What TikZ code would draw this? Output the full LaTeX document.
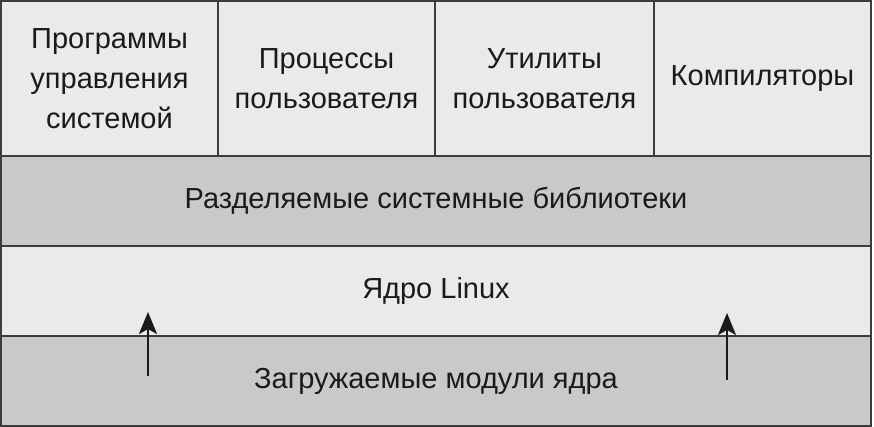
\documentclass[tikz,border=0pt]{standalone}
\usepackage{fontspec}
\setmainfont{Liberation Sans}
\usetikzlibrary{positioning,arrows.meta}
\definecolor{lightbox}{HTML}{EAEAEA}
\definecolor{darkbox}{HTML}{C9C9C9}
\definecolor{edge}{HTML}{3C3C3C}
\definecolor{ink}{HTML}{1A1A1A}
\tikzstyle{top box}=[
        draw = edge,
        line width = 1.4pt,
        fill = lightbox,
        text = ink,
        minimum height = 155pt,
        inner sep = 0pt,
        outer sep = 0pt,
        align = center,
        font = \fontsize{29}{40}\selectfont
    ]
\tikzstyle{layer}=[
        draw = edge,
        line width = 1.4pt,
        text = ink,
        minimum width = 870pt,
        minimum height = 90pt,
        inner sep = 0pt,
        outer sep = 0pt,
        anchor = north west,
        font = \fontsize{29}{40}\selectfont
    ]

\begin{document}
\begin{tikzpicture}[x=1pt, y=-1pt, node distance={0pt}, up/.style = {-{Stealth[length=22pt,width=18pt,inset=5pt]}, line width=2.8pt, ink}]
        \useasboundingbox[fill=white] (0,0) rectangle (874,427);
        \node[top box, minimum width=217pt, anchor=north west] (prog) at (1,1) {Программы\\управления\\системой};
        \node[top box, minimum width=217pt] (proc) [right = of prog] {Процессы\\пользователя};
        \node[top box, minimum width=219pt] (util) [right = of proc] {Утилиты\\пользователя};
        \node[top box, minimum width=217pt] (comp) [right = of util] {Компиляторы};

        \node[layer, fill=darkbox] (libs) at (prog.south west) {Разделяемые системные библиотеки};
        \node[layer, fill=lightbox] (kern) at (libs.south west) {Ядро Linux};
        \node[layer, fill=darkbox] (mods) at (kern.south west) {Загружаемые модули ядра};

        \coordinate (left tail) at (148,376);
        \coordinate (left tip) at (148,312);
        \coordinate (right tail) at (727,380);
        \coordinate (right tip) at (727,313);
        \draw[up] (left tail) -- (left tip);
        \draw[up] (right tail) -- (right tip);
    \end{tikzpicture}
\end{document}
